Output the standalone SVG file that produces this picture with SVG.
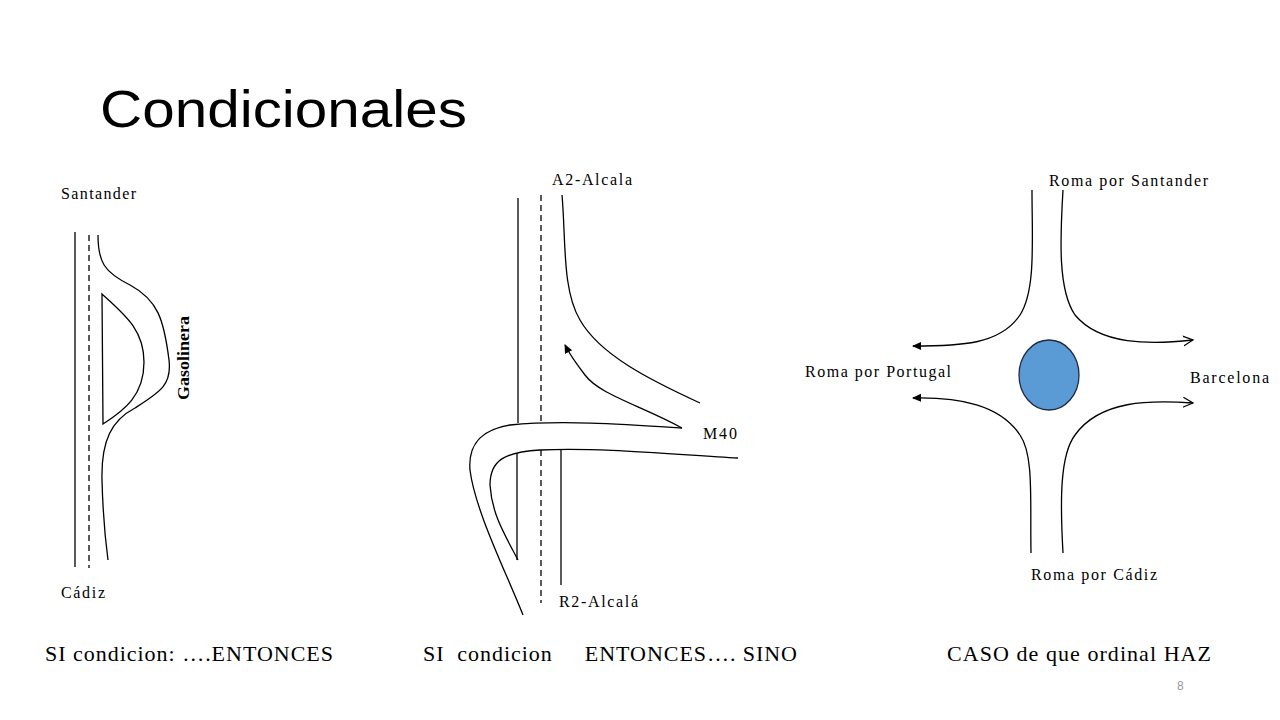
<svg xmlns="http://www.w3.org/2000/svg" width="1280" height="720" viewBox="0 0 1280 720">
<style>
.r{fill:none;stroke:#000;stroke-width:1.3}
.d{fill:none;stroke:#000;stroke-width:1.3;stroke-dasharray:6,4}
.t{font-family:"Liberation Serif",serif;font-size:16px;fill:#000}
.b{font-family:"Liberation Serif",serif;font-size:22px;fill:#000}
</style>
<defs>
<marker id="af" markerWidth="10" markerHeight="10" refX="8" refY="5" orient="auto" markerUnits="userSpaceOnUse"><path d="M0,1 L9,5 L0,9 z" fill="#000"/></marker>
<marker id="ao" markerWidth="12" markerHeight="12" refX="10" refY="6" orient="auto" markerUnits="userSpaceOnUse"><path d="M0,1 L10,6 L0,11" fill="none" stroke="#000" stroke-width="1.2"/></marker>
</defs>
<rect width="1280" height="720" fill="#fff"/>
<text x="100" y="127" font-family="Liberation Sans,Arial,sans-serif" font-size="52" fill="#000" textLength="367" lengthAdjust="spacingAndGlyphs">Condicionales</text>

<g id="left">
<line class="r" x1="75" y1="232" x2="75" y2="567"/>
<line class="d" x1="89" y1="235" x2="89" y2="568"/>
<path class="r" d="M98,235 C98,262 104,272 130,285 C158,300 164,320 169,360 C172,385 160,392 135,408 C112,420 101,440 102,480 C103,520 106,545 108,560"/>
<path class="r" d="M102,294 L103,424 C125,410 144,395 144,362 C144,330 125,315 102,294 Z"/>
<text class="t" transform="translate(189,400) rotate(-90)" font-weight="bold" font-size="15" textLength="84" lengthAdjust="spacingAndGlyphs">Gasolinera</text>
<text class="t" x="61" y="199" textLength="75">Santander</text>
<text class="t" x="61" y="598" textLength="44">Cádiz</text>
</g>

<g id="middle">
<line class="r" x1="518" y1="198" x2="518" y2="423"/>
<line class="r" x1="517" y1="453" x2="517" y2="560"/>
<line class="d" x1="541" y1="195" x2="541" y2="422"/>
<line class="d" x1="541" y1="450" x2="541" y2="603"/>
<line class="r" x1="561" y1="450" x2="561" y2="585"/>
<path class="r" d="M562,195 C566,240 562,290 580,320 C600,355 650,380 700,403"/>
<path class="r" d="M682,428 C640,405 600,395 585,375 C575,362 570,355 565,345" marker-end="url(#af)"/>
<path class="r" d="M682,428 C620,424 560,420 510,425 C480,430 468,445 470,470 C475,510 505,570 523,615"/>
<path class="r" d="M738,458 C680,455 600,447 540,450 C505,452 490,460 490,485 C492,515 505,535 518,560"/>
<text class="t" x="552" y="185" textLength="80">A2-Alcala</text>
<text class="t" x="703" y="439" textLength="34">M40</text>
<text class="t" x="559" y="607" textLength="79">R2-Alcalá</text>
</g>

<g id="right">
<path class="r" d="M1032,190 C1032,240 1036,290 1020,315 C1000,345 960,346 913,346" marker-end="url(#af)"/>
<path class="r" d="M1063,190 C1060,240 1058,290 1075,315 C1100,345 1150,345 1193,340" marker-end="url(#ao)"/>
<path class="r" d="M1031,553 C1030,500 1034,455 1020,435 C1000,405 960,397 913,398" marker-end="url(#af)"/>
<path class="r" d="M1063,553 C1060,500 1060,455 1075,435 C1100,400 1150,400 1193,403" marker-end="url(#ao)"/>
<ellipse cx="1049" cy="375" rx="30" ry="35" fill="#5b9bd5" stroke="#1f2a44" stroke-width="1.3"/>
<text class="t" x="1049" y="186" textLength="159">Roma por Santander</text>
<text class="t" x="805" y="377" textLength="146">Roma por Portugal</text>
<text class="t" x="1190" y="383" textLength="79">Barcelona</text>
<text class="t" x="1031" y="580" textLength="126">Roma por Cádiz</text>
</g>

<text class="b" x="45" y="661" textLength="288">SI condicion: ….ENTONCES</text>
<text class="b" x="423" y="661" xml:space="preserve" textLength="374">SI  condicion     ENTONCES…. SINO</text>
<text class="b" x="947" y="661" textLength="264">CASO de que ordinal HAZ</text>
<text x="1177" y="690" font-family="Liberation Sans,sans-serif" font-size="12" fill="#999">8</text>
</svg>
